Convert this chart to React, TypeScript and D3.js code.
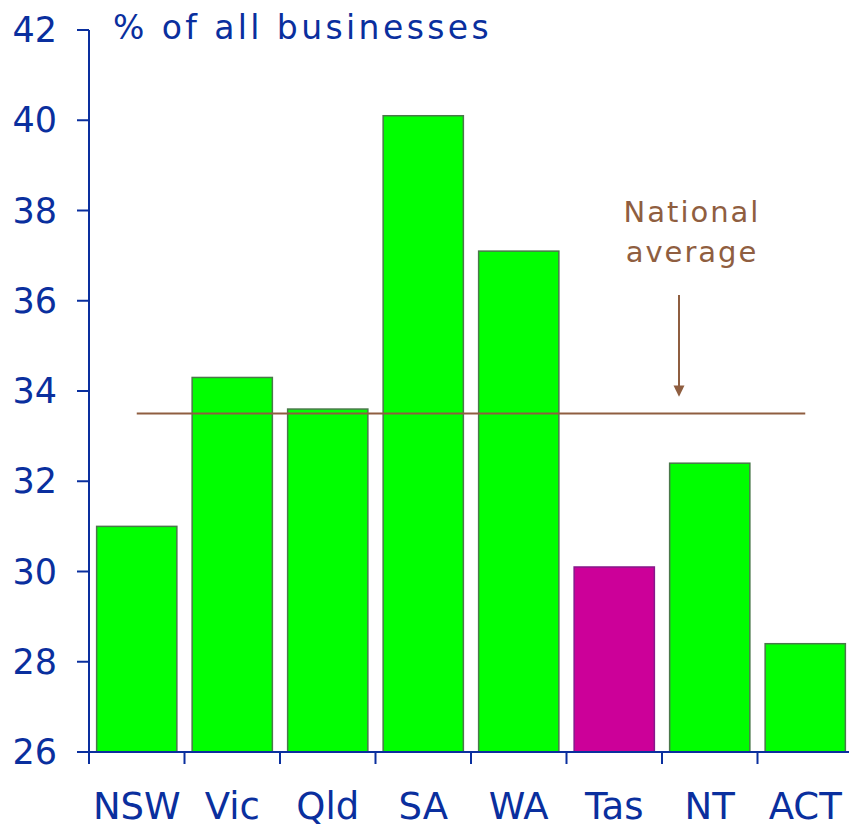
import React from 'react';
import * as d3 from 'd3';

const states = ['NSW', 'Vic', 'Qld', 'SA', 'WA', 'Tas', 'NT', 'ACT'];
const shares = [31.0, 34.3, 33.6, 40.1, 37.1, 30.1, 32.4, 28.4];
const yTicks = [26, 28, 30, 32, 34, 36, 38, 40, 42];
const nationalAverage = 33.5;
const highlight = 'Tas';

const W = 849;
const H = 825;
const margin = { left: 89, top: 30, bottom: 73 };
const step = 95.5;

const blue = '#0a2f9e';
const brown = '#8f5e40';
const font = '"DejaVu Sans", Verdana, sans-serif';

const App = () => {
  const plotBottom = H - margin.bottom;
  const axisRight = margin.left + step * states.length;

  const x = d3
    .scaleBand<string>()
    .domain(states)
    .range([margin.left, axisRight])
    .paddingInner(0.16)
    .paddingOuter(0.08);

  // category boundaries for the x ticks
  const xTick = d3.scaleBand<string>().domain(states).range([margin.left, axisRight]).padding(0);

  const y = d3.scaleLinear().domain([26, 42]).range([plotBottom, margin.top]);

  const center = (s: string) => (xTick(s) as number) + xTick.bandwidth() / 2;
  const arrowX = (xTick('NT') as number) + 17;

  return (
    <svg
      width={W}
      height={H}
      style={{ position: 'absolute', left: 0, top: 0, background: '#fff' }}
      fontFamily={font}
    >
      {/* bars */}
      {states.map((s, i) => (
        <rect
          key={s}
          x={x(s)}
          y={y(shares[i])}
          width={x.bandwidth()}
          height={plotBottom - y(shares[i])}
          fill={s === highlight ? '#cc0099' : '#00ff00'}
          stroke={s === highlight ? '#86188a' : '#4a784a'}
          strokeWidth={1.5}
        />
      ))}

      {/* national average */}
      <line
        x1={center('NSW')}
        x2={center('ACT')}
        y1={y(nationalAverage)}
        y2={y(nationalAverage)}
        stroke={brown}
        strokeWidth={2}
      />
      <line x1={arrowX} x2={arrowX} y1={y(36.13)} y2={y(34.05)} stroke={brown} strokeWidth={2} />
      <path
        d={`M${arrowX - 5.5},${y(34.12)} L${arrowX + 5.5},${y(34.12)} L${arrowX},${y(33.87)} Z`}
        fill={brown}
      />
      <text x={arrowX + 13} y={y(37.75)} fill={brown} fontSize={29} letterSpacing={2} textAnchor="middle">
        National
      </text>
      <text x={arrowX + 13} y={y(36.86)} fill={brown} fontSize={29} letterSpacing={2} textAnchor="middle">
        average
      </text>

      {/* y axis */}
      <line x1={margin.left} x2={margin.left} y1={margin.top} y2={plotBottom} stroke={blue} strokeWidth={2} />
      {yTicks.map((t) => (
        <g key={t}>
          <line x1={margin.left - 12} x2={margin.left} y1={y(t)} y2={y(t)} stroke={blue} strokeWidth={2} />
          <text x={57} y={y(t) + 12} fill={blue} fontSize={35} textAnchor="end">
            {t}
          </text>
        </g>
      ))}

      {/* x axis */}
      <line x1={margin.left - 12} x2={axisRight} y1={plotBottom} y2={plotBottom} stroke={blue} strokeWidth={2} />
      {[...states, ''].map((s, i) => {
        const tx = margin.left + i * xTick.step();
        return <line key={'t' + i} x1={tx} x2={tx} y1={plotBottom} y2={plotBottom + 12} stroke={blue} strokeWidth={2} />;
      })}
      {states.map((s) => (
        <text key={s} x={center(s)} y={819} fill={blue} fontSize={37} textAnchor="middle">
          {s}
        </text>
      ))}

      <text x={113} y={39} fill={blue} fontSize={33} letterSpacing={3.4}>
        % of all businesses
      </text>
    </svg>
  );
};

export default App;
